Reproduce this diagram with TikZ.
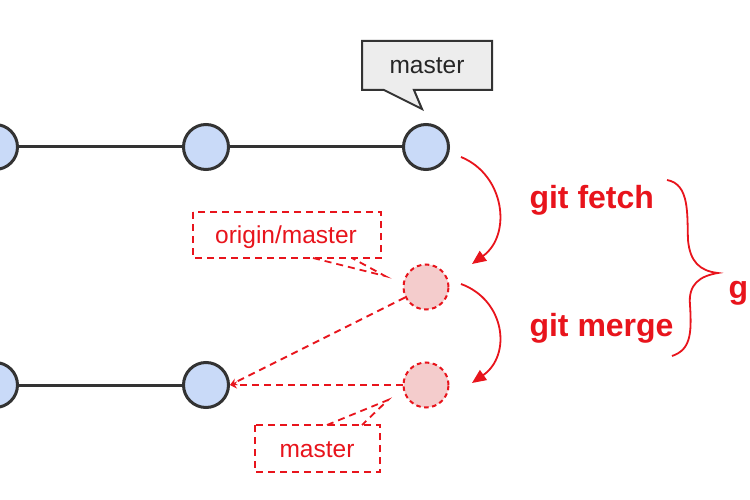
\documentclass[tikz,border=0pt]{standalone}
\usepackage{fontspec}
\setmainfont{Liberation Sans}
\usetikzlibrary{arrows.meta}
\definecolor{gred}{HTML}{E8141C}
\definecolor{cblue}{HTML}{C9DAF8}
\definecolor{cpink}{HTML}{F4CCCC}
\definecolor{cdark}{HTML}{333333}
\begin{document}
\begin{tikzpicture}[x=1pt,y=-1pt,
  commit/.style={circle,draw=cdark,fill=cblue,line width=3pt,minimum size=45pt,inner sep=0pt},
  rcommit/.style={circle,draw=gred,fill=cpink,dash pattern=on 4.5pt off 3.5pt,line width=2pt,minimum size=45pt,inner sep=0pt},
  branchline/.style={draw=cdark,line width=3pt},
  rlink/.style={draw=gred,line width=1.8pt,dash pattern=on 7pt off 5pt,-{Stealth[length=7pt,width=7pt]}},
  flow/.style={draw=gred,line width=1.8pt,-{Triangle[length=14pt,width=12pt]}},
  cmd/.style={text=gred,font=\fontsize{32}{38}\selectfont\bfseries},
  lbl/.style={font=\fontsize{24.5}{29}\selectfont},
  calloutbox/.style={draw=cdark,fill=black!7,line width=2pt,line join=miter},
  rbox/.style={draw=gred,line width=1.8pt,dash pattern=on 7pt off 5pt},
]
\useasboundingbox (0,0) rectangle (750,500);
\fill[white] (0,0) rectangle (750,500);
\begin{scope}
\clip (0,0) rectangle (750,500);
% commits
\node[commit] (t1) at (-5,147) {};
\node[commit] (t2) at (206,147) {};
\node[commit] (t3) at (426,147) {};
\node[commit] (b1) at (-5,385) {};
\node[commit] (b2) at (206,385) {};
\draw[branchline] (t1) -- (t2);
\draw[branchline] (t2) -- (t3);
\draw[branchline] (b1) -- (b2);
\node[rcommit] (r1) at (426,287) {};
\node[rcommit] (r2) at (426,385) {};
\draw[rlink] (r1) -- (b2.east);
\draw[rlink] (r2) -- (b2.east);
% label boxes
\draw[calloutbox] (362,41) -- (492,41) -- (492,90) -- (414,90) -- (422,109) -- (384,90) -- (362,90) -- cycle;
\node[lbl,text=black!85] (lm) at (427,66) {master};
\draw[rbox] (193,212) rectangle (381,258);
\draw[rbox] (313,258) -- (385,276) -- (352,258);
\node[lbl,text=gred] (lo) at (286,237) {origin/master};
\draw[rbox] (255,425) rectangle (380,472);
\draw[rbox] (327,425) -- (388,400) -- (362,425);
\node[lbl,text=gred] (lb) at (317,450) {master};
% flow arrows
\coordinate (f1s) at (461,157);
\coordinate (f1e) at (472,264);
\coordinate (f2s) at (461,284);
\coordinate (f2e) at (472,383);
\draw[flow] (f1s) .. controls (505,175) and (512,235) .. (f1e);
\draw[flow] (f2s) .. controls (505,300) and (512,355) .. (f2e);
\node[cmd,anchor=base west] (gf) at (526,208) {git fetch};
\node[cmd,anchor=base west] (gm) at (526,336) {git merge};
% brace
\draw[gred,line width=1.8pt] (667,180) .. controls (690,184) and (687,215) .. (688,240)
  .. controls (690,262) and (700,271) .. (718,273)
  .. controls (700,276) and (688,284) .. (690,305)
  .. controls (692,335) and (690,350) .. (672,356);
\node[cmd,anchor=base west] (gp) at (725,298) {g};
\end{scope}
\end{tikzpicture}
\end{document}
